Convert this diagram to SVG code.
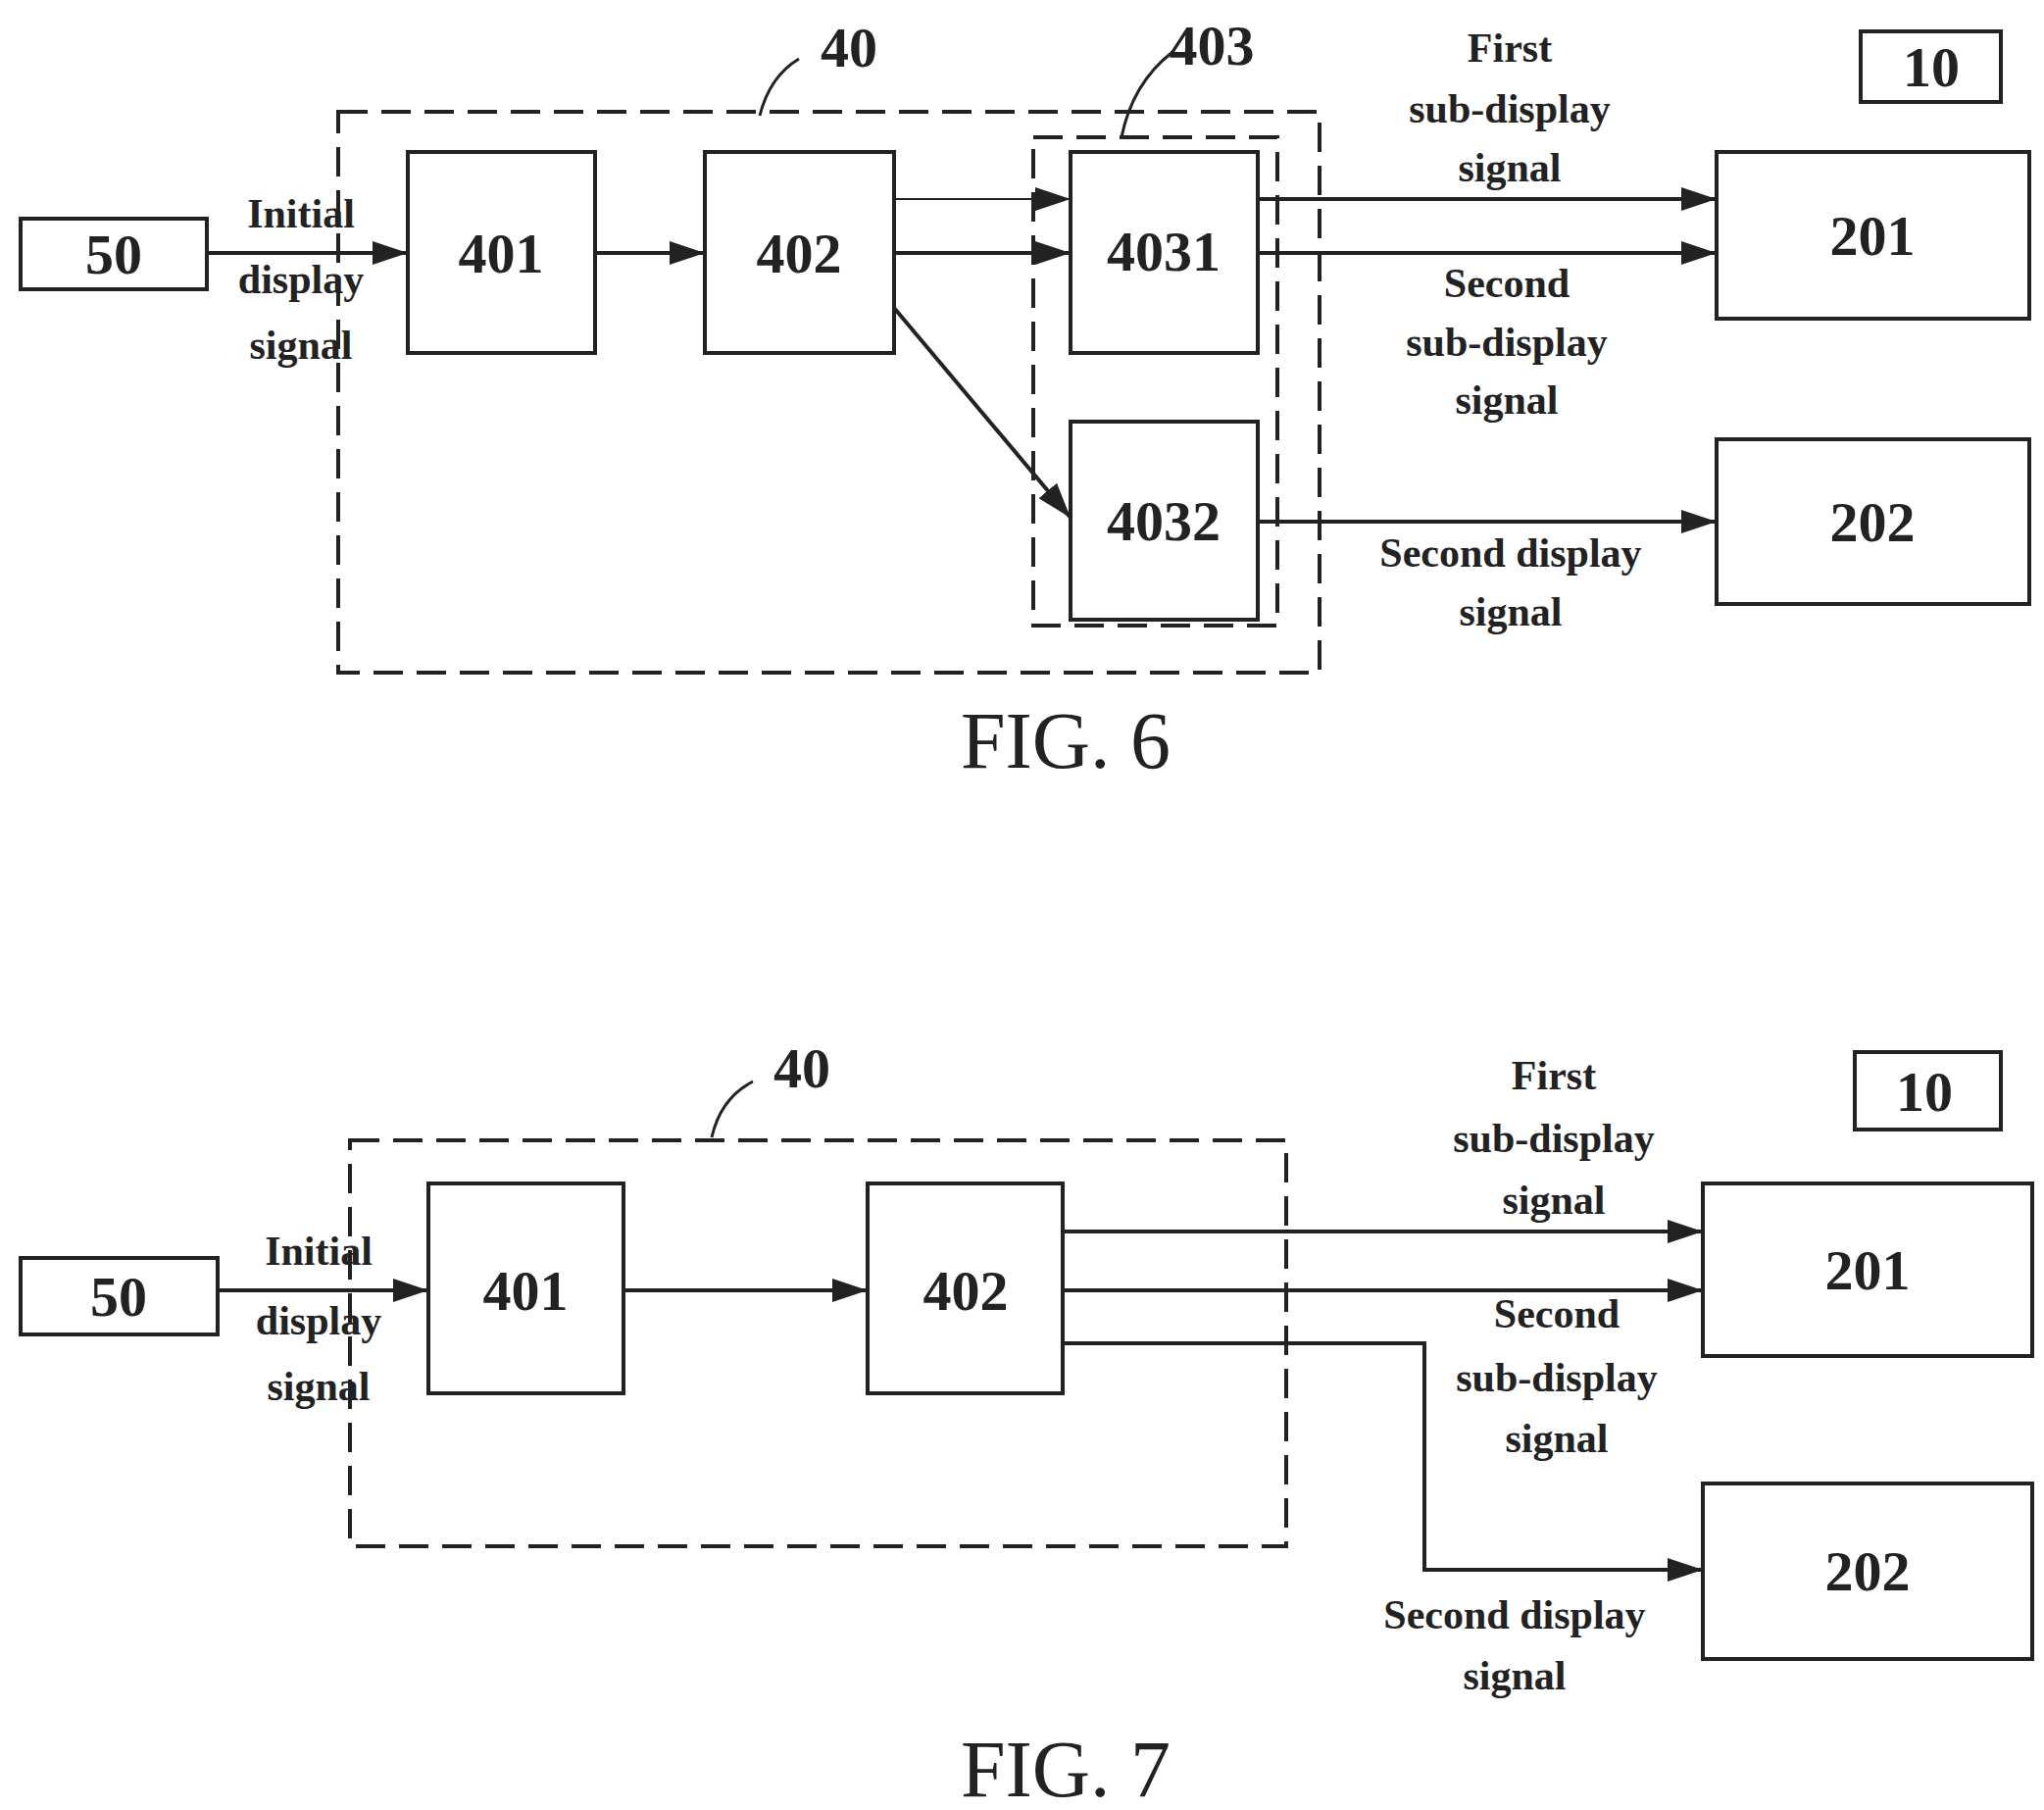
<svg xmlns="http://www.w3.org/2000/svg" width="2085" height="1846" viewBox="0 0 2085 1846">
<defs>
<marker id="ah" markerWidth="12" markerHeight="10" refX="12" refY="5" orient="auto" markerUnits="userSpaceOnUse"><path d="M0,0 L34,5 L0,10z" transform="scale(1)"/></marker>
<marker id="a" viewBox="0 0 36 24" markerWidth="36" markerHeight="24" refX="36" refY="12" orient="auto" markerUnits="userSpaceOnUse"><path d="M0,0 L36,12 L0,24z" fill="#222"/></marker>
</defs>
<style>
.b{fill:#fff;stroke:#222;stroke-width:4}
.d{fill:none;stroke:#222;stroke-width:4;stroke-dasharray:30 14}
.c{fill:none;stroke:#222;stroke-width:4;marker-end:url(#a)}
.t{font-family:"Liberation Serif",serif;font-weight:bold;fill:#222;text-anchor:middle}
.n{font-size:58px}
.l{font-size:42px}
.f{font-family:"Liberation Serif",serif;font-size:82px;fill:#222;text-anchor:middle}
</style>
<rect width="2085" height="1846" fill="#fff"/>
<!-- FIG 6 -->
<g id="fig6-40"><rect class="d" x="345" y="114" width="1001" height="572"/><path d="M775,118 Q785,78 815,60" fill="none" stroke="#222" stroke-width="3"/><text class="t n" x="866" y="68">40</text></g>
<g id="fig6-403"><rect class="d" x="1054" y="140" width="249" height="498"/><path d="M1144,140 Q1155,85 1196,53" fill="none" stroke="#222" stroke-width="3"/><text class="t n" x="1236" y="66">403</text></g>
<g id="fig6-50"><rect class="b" x="21" y="223" width="190" height="72"/><text class="t n" x="116" y="279">50</text></g>
<g id="fig6-401"><rect class="b" x="416" y="155" width="191" height="205"/><text class="t n" x="511" y="278">401</text></g>
<g id="fig6-402"><rect class="b" x="719" y="155" width="193" height="205"/><text class="t n" x="815" y="278">402</text></g>
<g id="fig6-4031"><rect class="b" x="1092" y="155" width="191" height="205"/><text class="t n" x="1187" y="276">4031</text></g>
<g id="fig6-4032"><rect class="b" x="1092" y="430" width="191" height="202"/><text class="t n" x="1187" y="551">4032</text></g>
<g id="fig6-201"><rect class="b" x="1751" y="155" width="319" height="170"/><text class="t n" x="1910" y="260">201</text></g>
<g id="fig6-202"><rect class="b" x="1751" y="448" width="319" height="168"/><text class="t n" x="1910" y="552">202</text></g>
<g id="fig6-10"><rect class="b" x="1898" y="32" width="143" height="72"/><text class="t n" x="1970" y="88">10</text></g>
<g id="fig6-connectors">
<line class="c" x1="211" y1="258" x2="416" y2="258"/>
<line class="c" x1="607" y1="258" x2="719" y2="258"/>
<line class="c" x1="912" y1="203" x2="1092" y2="203" style="stroke-width:2"/>
<line class="c" x1="912" y1="258" x2="1092" y2="258"/>
<line class="c" x1="912" y1="314" x2="1092" y2="528"/>
<line class="c" x1="1283" y1="203" x2="1751" y2="203"/>
<line class="c" x1="1283" y1="258" x2="1751" y2="258"/>
<line class="c" x1="1283" y1="532" x2="1751" y2="532"/>
</g>
<g id="fig6-labels" class="t l">
<text x="307" y="232">Initial</text><text x="307" y="299">display</text><text x="307" y="366">signal</text>
<text x="1540" y="63">First</text><text x="1540" y="125">sub-display</text><text x="1540" y="185">signal</text>
<text x="1537" y="303">Second</text><text x="1537" y="363">sub-display</text><text x="1537" y="422">signal</text>
<text x="1541" y="578">Second display</text><text x="1541" y="638">signal</text>
</g>
<text class="f" x="1087" y="783">FIG. 6</text>
<!-- FIG 7 -->
<g id="fig7-40"><rect class="d" x="357" y="1163" width="955" height="414"/><path d="M726,1160 Q735,1120 768,1103" fill="none" stroke="#222" stroke-width="3"/><text class="t n" x="818" y="1109">40</text></g>
<g id="fig7-50"><rect class="b" x="21" y="1283" width="201" height="78"/><text class="t n" x="121" y="1342">50</text></g>
<g id="fig7-401"><rect class="b" x="437" y="1207" width="199" height="214"/><text class="t n" x="536" y="1336">401</text></g>
<g id="fig7-402"><rect class="b" x="885" y="1207" width="199" height="214"/><text class="t n" x="985" y="1336">402</text></g>
<g id="fig7-201"><rect class="b" x="1737" y="1207" width="336" height="176"/><text class="t n" x="1905" y="1315">201</text></g>
<g id="fig7-202"><rect class="b" x="1737" y="1513" width="336" height="179"/><text class="t n" x="1905" y="1622">202</text></g>
<g id="fig7-10"><rect class="b" x="1892" y="1073" width="149" height="79"/><text class="t n" x="1963" y="1133">10</text></g>
<g id="fig7-connectors">
<line class="c" x1="222" y1="1316" x2="437" y2="1316"/>
<line class="c" x1="636" y1="1316" x2="885" y2="1316"/>
<line class="c" x1="1084" y1="1256" x2="1737" y2="1256"/>
<line class="c" x1="1084" y1="1316" x2="1737" y2="1316"/>
<polyline class="c" points="1084,1370 1453,1370 1453,1601 1737,1601"/>
</g>
<g id="fig7-labels" class="t l">
<text x="325" y="1290">Initial</text><text x="325" y="1361">display</text><text x="325" y="1428">signal</text>
<text x="1585" y="1111">First</text><text x="1585" y="1175">sub-display</text><text x="1585" y="1238">signal</text>
<text x="1588" y="1354">Second</text><text x="1588" y="1419">sub-display</text><text x="1588" y="1481">signal</text>
<text x="1545" y="1661">Second display</text><text x="1545" y="1723">signal</text>
</g>
<text class="f" x="1087" y="1832">FIG. 7</text>
</svg>
